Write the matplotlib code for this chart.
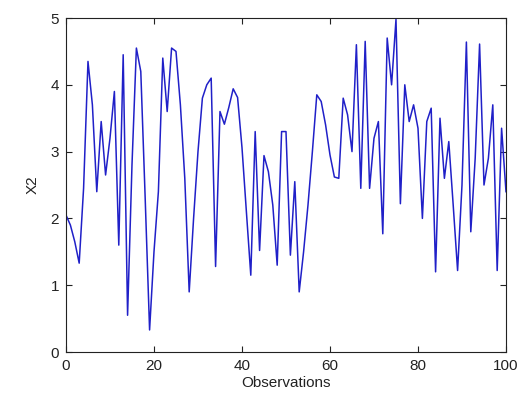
import numpy as np
import matplotlib
matplotlib.use("Agg")
import matplotlib.pyplot as plt

# observation index and the X2 series
observations = np.arange(0, 101)
x2 = [
    2.05, 1.9, 1.65, 1.33, 2.45, 4.35, 3.7, 2.4, 3.45, 2.65,
    3.2, 3.9, 1.6, 4.45, 0.55, 2.8, 4.55, 4.2, 2.3, 0.33,
    1.5, 2.4, 4.4, 3.6, 4.55, 4.5, 3.7, 2.6, 0.9, 2.0,
    3.0, 3.8, 4.0, 4.1, 1.28, 3.6, 3.41, 3.66, 3.94, 3.81,
    3.06, 2.1, 1.15, 3.3, 1.52, 2.94, 2.7, 2.2, 1.3, 3.3,
    3.3, 1.45, 2.55, 0.9, 1.5, 2.2, 3.0, 3.85, 3.75, 3.4,
    2.95, 2.62, 2.6, 3.8, 3.55, 3.0, 4.6, 2.45, 4.65, 2.45,
    3.2, 3.45, 1.77, 4.7, 4.0, 4.98, 2.22, 4.0, 3.45, 3.7,
    3.35, 2.0, 3.45, 3.65, 1.2, 3.5, 2.6, 3.15, 2.2, 1.22,
    2.5, 4.64, 1.8, 2.9, 4.61, 2.5, 2.9, 3.7, 1.22, 3.35,
    2.4,
]
xticks = [0, 20, 40, 60, 80, 100]
yticks = [0, 1, 2, 3, 4, 5]

plt.rcParams['font.family'] = ['Liberation Sans', 'DejaVu Sans']

fig = plt.figure(figsize=(5.3, 4.0), dpi=100)
ax = fig.add_axes([0.1245, 0.12, 0.8302, 0.835])
ax.plot(observations, x2, color='#2020c8', linewidth=1.1)

ax.set_xlim(0, 100)
ax.set_ylim(0, 5)
ax.set_xticks(xticks)
ax.set_yticks(yticks)
ax.tick_params(direction='in', top=True, right=True, length=4, width=0.8,
               labelsize=11, pad=5, colors='#222222')
for spine in ax.spines.values():
    spine.set_linewidth(0.8)
    spine.set_color('#222222')

ax.set_xlabel('Observations', fontsize=11, labelpad=2, color='#222222')
ax.set_ylabel('X2', fontsize=11, labelpad=8, color='#222222')

fig.savefig('out.png', dpi=100, facecolor='white')
